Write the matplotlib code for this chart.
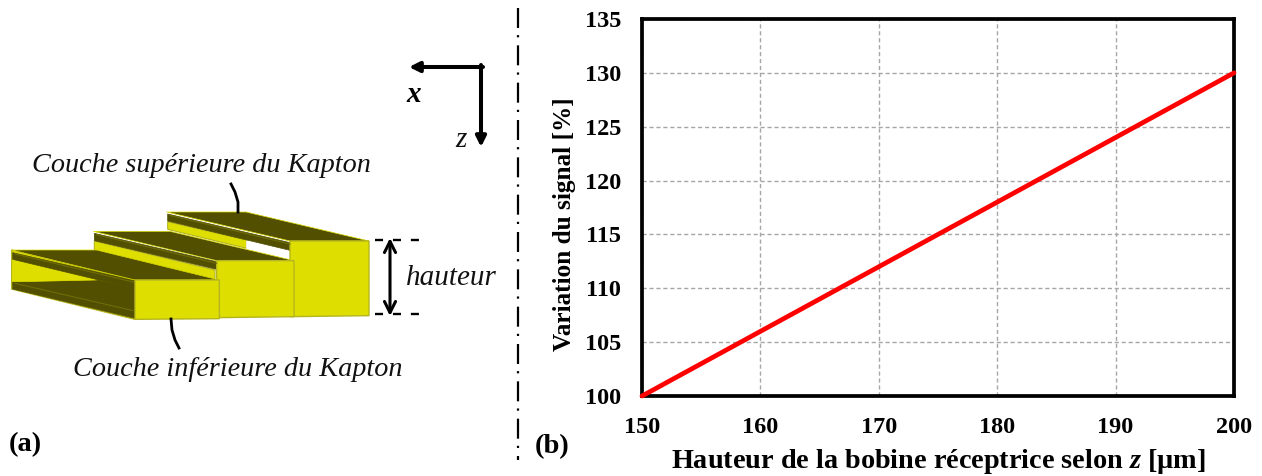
import matplotlib
matplotlib.use("Agg")
import matplotlib.pyplot as plt
from matplotlib.patches import Polygon

W, H = 1262, 476
plt.rcParams['font.family'] = ['Liberation Serif', 'DejaVu Serif']
plt.rcParams['mathtext.fontset'] = 'custom'
plt.rcParams['mathtext.bfit'] = 'Liberation Serif:italic:bold'
plt.rcParams['mathtext.it'] = 'Liberation Serif:italic:bold'
plt.rcParams['mathtext.rm'] = 'Liberation Serif:bold'

# chart data
hauteur = [150, 160, 170, 180, 190, 200]
variation = [100, 106, 112, 118, 124, 130]
x_ticks = [150, 160, 170, 180, 190, 200]
y_ticks = [100, 105, 110, 115, 120, 125, 130, 135]

YEL = '#dede00'
EDGE = '#b5b520'
DARK = '#524f00'

fig = plt.figure(figsize=(W / 100, H / 100), dpi=100, facecolor='white')

# overlay in pixel coordinates for the schematic
ov = fig.add_axes([0, 0, 1, 1], zorder=1)
ov.set_xlim(0, W)
ov.set_ylim(H, 0)
ov.axis('off')


def P(pts, fc, ec=None, lw=0.5):
    # outline points read at 3x scale from the region starting at y=140
    ov.add_patch(Polygon([(x / 3, 140 + y / 3) for x, y in pts], fc=fc, ec=ec or fc, lw=lw))


# back step
P([(503, 245), (740, 300), (740, 325), (503, 268)], YEL, EDGE, 0.8)
P([(740, 303), (870, 333), (870, 358), (740, 326)], 'white')
P([(503, 222), (870, 308), (870, 331), (503, 243)], DARK)
P([(500, 216), (738, 216), (1107, 303), (870, 303)], DARK, YEL, 0.5)
P([(870, 303), (1107, 303), (1107, 527), (870, 530)], YEL, EDGE, 1)
# middle step
P([(283, 303), (645, 390), (645, 418), (283, 330)], YEL, EDGE, 0.8)
P([(283, 280), (650, 365), (650, 388), (283, 302)], DARK)
P([(280, 274), (510, 274), (882, 362), (650, 362)], DARK, YEL, 0.5)
P([(650, 362), (882, 362), (882, 530), (650, 533)], YEL, EDGE, 1)
# front step
P([(35, 330), (35, 447), (405, 538), (405, 420)], YEL, EDGE, 1)
P([(38, 426), (100, 425), (290, 420), (405, 445), (405, 535), (38, 447)], DARK)
P([(38, 360), (290, 420), (100, 424), (38, 424)], YEL)
P([(38, 338), (405, 422), (405, 446), (38, 358)], DARK)
P([(35, 330), (290, 330), (658, 420), (405, 420)], DARK, YEL, 0.5)
P([(405, 420), (658, 420), (658, 536), (405, 538)], YEL, EDGE, 1)
# thin rib on each dark strip and on the lower strip
for a, b in [((510, 226), (870, 312)), ((290, 284), (650, 370)), ((45, 342), (400, 426)), ((45, 430), (400, 512))]:
    ov.plot([a[0] / 3, b[0] / 3], [140 + a[1] / 3, 140 + b[1] / 3], color='#6e6c08', lw=0.8)

# leader curves
ov.plot([231, 235, 238, 238], [184, 192, 202, 212], color='black', lw=2)
ov.plot([171, 172, 175, 179], [319, 330, 340, 348], color='black', lw=2)

# hauteur dimension
for y in (240, 314):
    ov.plot([375, 421], [y, y], color='black', lw=1.7, dashes=(3.4, 4.2))
ov.annotate('', xy=(390, 238), xytext=(390, 316),
            arrowprops=dict(arrowstyle='<->', color='black', lw=2.2, mutation_scale=20, shrinkA=0, shrinkB=0))

# x/z axes arrows
ov.annotate('', xy=(409, 67), xytext=(483, 67),
            arrowprops=dict(arrowstyle='-|>', color='black', lw=2.9, mutation_scale=15, shrinkA=0, shrinkB=0))
ov.annotate('', xy=(481, 147), xytext=(481, 65),
            arrowprops=dict(arrowstyle='-|>', color='black', lw=2.9, mutation_scale=15, shrinkA=0, shrinkB=0))

# dash-dot separator
ov.plot([518, 518], [8, 460], color='black', lw=1.6, dashes=(9, 3.2, 1.0, 3.6))

# schematic text
it = dict(style='italic', color='#111111', ha='center', va='center')
ov.text(201, 165, 'Couche supérieure du Kapton', fontsize=20.3, **it)
ov.text(238, 369, 'Couche inférieure du Kapton', fontsize=20.3, **it)
ov.text(451, 278, 'hauteur', fontsize=21, **it)
ov.text(461, 140, 'z', fontsize=21, **it)
ov.text(414, 94, 'x', fontsize=21, style='italic', weight='bold', ha='center', va='center')
ov.text(25, 445, '(a)', fontsize=20.5, weight='bold', ha='center', va='center')
ov.text(552, 447, '(b)', fontsize=20.5, weight='bold', ha='center', va='center')

# chart
L, R, T, B = 642, 1234, 19, 396
ax = fig.add_axes([L / W, 1 - B / H, (R - L) / W, (B - T) / H], zorder=2)
ax.patch.set_alpha(0)
ax.plot(hauteur, variation, color='#ff0000', lw=3.4, solid_capstyle='round', clip_on=False, zorder=3)
ax.set_xlim(150, 200)
ax.set_ylim(100, 135)
ax.set_xticks(x_ticks)
ax.set_yticks(y_ticks)
ax.grid(True, color='#a6a6a6', lw=1, ls=(0, (3, 2)))
ax.tick_params(length=0, labelsize=17.5)
ax.tick_params(axis='x', pad=15)
ax.tick_params(axis='y', pad=15)
for t in ax.get_xticklabels() + ax.get_yticklabels():
    t.set_fontweight('bold')
for s in ax.spines.values():
    s.set_linewidth(2.7)
    s.set_color('black')
ax.set_xlabel(r'Hauteur de la bobine réceptrice selon $\mathbfit{z}$ [µm]', fontsize=20.3, fontweight='bold')
ax.xaxis.set_label_coords((938 - L) / (R - L), -(462 - B) / (B - T))
ax.xaxis.label.set_va('center')
ax.set_ylabel('Variation du signal [%]', fontsize=18.2, fontweight='bold')
ax.yaxis.set_label_coords((564 - L) / (R - L), (B - 224) / (B - T))
ax.yaxis.label.set_va('center')

fig.savefig('out.png', dpi=100)
